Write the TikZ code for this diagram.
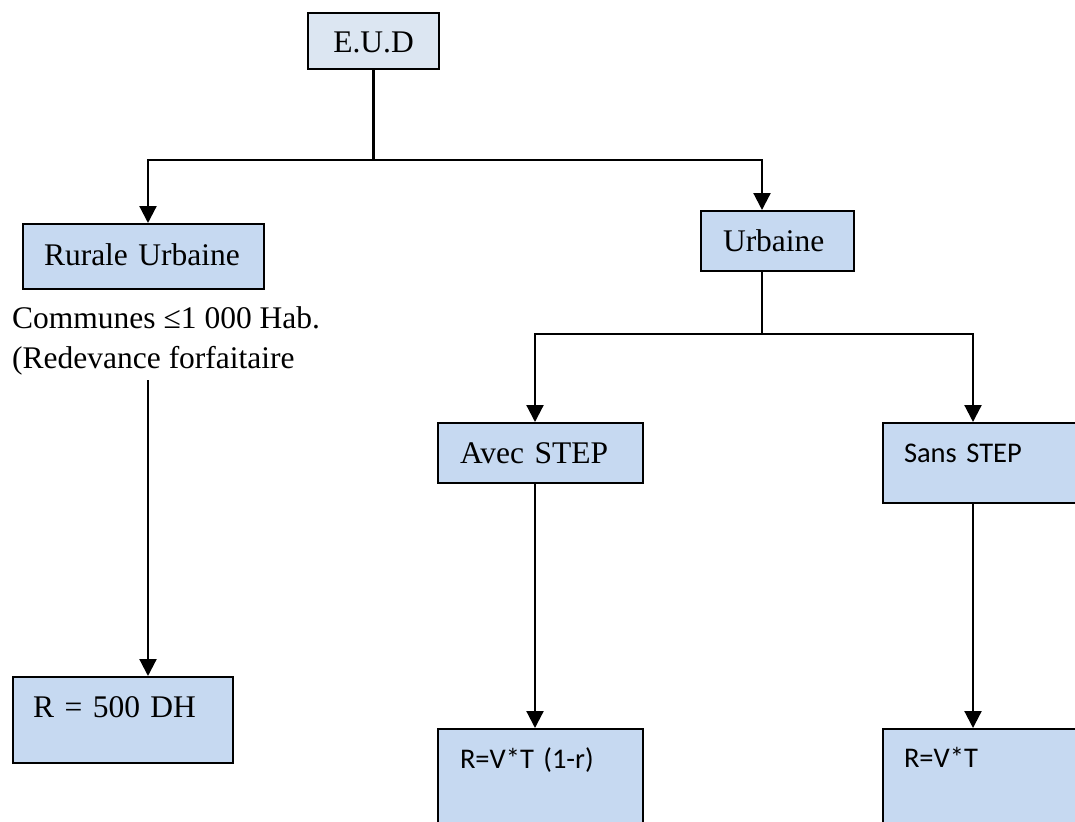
\documentclass[tikz,border=0pt]{standalone}
\usepackage{fontspec}
\setmainfont{Liberation Serif}
\newfontfamily\calibri{Carlito}
\usepackage{tikz}
\usetikzlibrary{arrows.meta,calc}
\usepackage{xcolor}
\definecolor{boxfill}{HTML}{C6D9F1}
\definecolor{topfill}{HTML}{DCE6F2}

\tikzset{
  box/.style={draw,line width=2pt,fill=boxfill,anchor=north west,inner ysep=0pt,align=left},
  cal/.style={font=\calibri\fontsize{28.5}{34}\selectfont},
  link/.style={line width=2.2pt},
  arrow/.style={line width=2.2pt,-{Triangle[width=17pt,length=17pt]}},
  txt/.style={anchor=base west,inner sep=0pt}
}

\begin{document}
\begin{tikzpicture}[x=1pt,y=-1pt,font=\fontsize{31.5}{36}\selectfont]
  \path[use as bounding box,fill=white] (0,0) rectangle (1075,821);
  \clip (0,0) rectangle (1075,821);

  % boxes
  \node[box,fill=topfill,inner xsep=0pt,text width=131pt,align=center,text height=40pt,text depth=16pt] (eud) at (307,12) {E.U.D};
  \node[box,inner xsep=21pt,text width=199pt,text height=41pt,text depth=24pt] (rural) at (22,223) {Rurale Urbaine};
  \node[box,inner xsep=22pt,text width=109pt,text height=40pt,text depth=20pt] (urbaine) at (700,210) {Urbaine};
  \node[box,inner xsep=22pt,text width=161pt,text height=40pt,text depth=20pt] (avec) at (437,422) {Avec STEP};
  \node[box,cal,inner xsep=21pt,text width=166pt,text height=39pt,text depth=41pt] (sans) at (882,422) {Sans STEP};
  \node[box,inner xsep=20pt,text width=180pt,text height=40pt,text depth=46pt] (rfix) at (12,676) {R = 500 DH};
  \node[box,cal,inner xsep=22pt,text width=161pt,text height=39pt,text depth=73pt] (ravec) at (437,728) {R=V*T (1-r)};
  \node[box,cal,inner xsep=21pt,text width=166pt,text height=38pt,text depth=74pt] (rsans) at (882,728) {R=V*T};

  % free text under the left box
  \node[txt] (communes) at (12,328) {Communes ≤1 000 Hab.};
  \node[txt] (redev) at (12,368) {(Redevance forfaitaire};

  \coordinate (hubA) at (eud.south |- 0,160);
  \coordinate (hubB) at (762,334);
  \coordinate (ltop) at (148,380);

  % connectors
  \draw[link] (eud.south) -- (hubA);
  \draw[arrow] (hubA) -| (rural.north -| ltop);
  \draw[arrow] (hubA) -| (urbaine.north -| hubB);
  \draw[link] (urbaine.south -| hubB) -- (hubB);
  \draw[arrow] (hubB) -| ([xshift=-5.5pt]avec.north);
  \draw[arrow] (hubB) -| ([xshift=-14pt]sans.north);
  \draw[arrow] (ltop) -- (rfix.north -| ltop);
  \draw[arrow] ([xshift=-5.5pt]avec.south) -- ([xshift=-5.5pt]ravec.north);
  \draw[arrow] ([xshift=-14pt]sans.south) -- ([xshift=-14pt]rsans.north);
\end{tikzpicture}
\end{document}
